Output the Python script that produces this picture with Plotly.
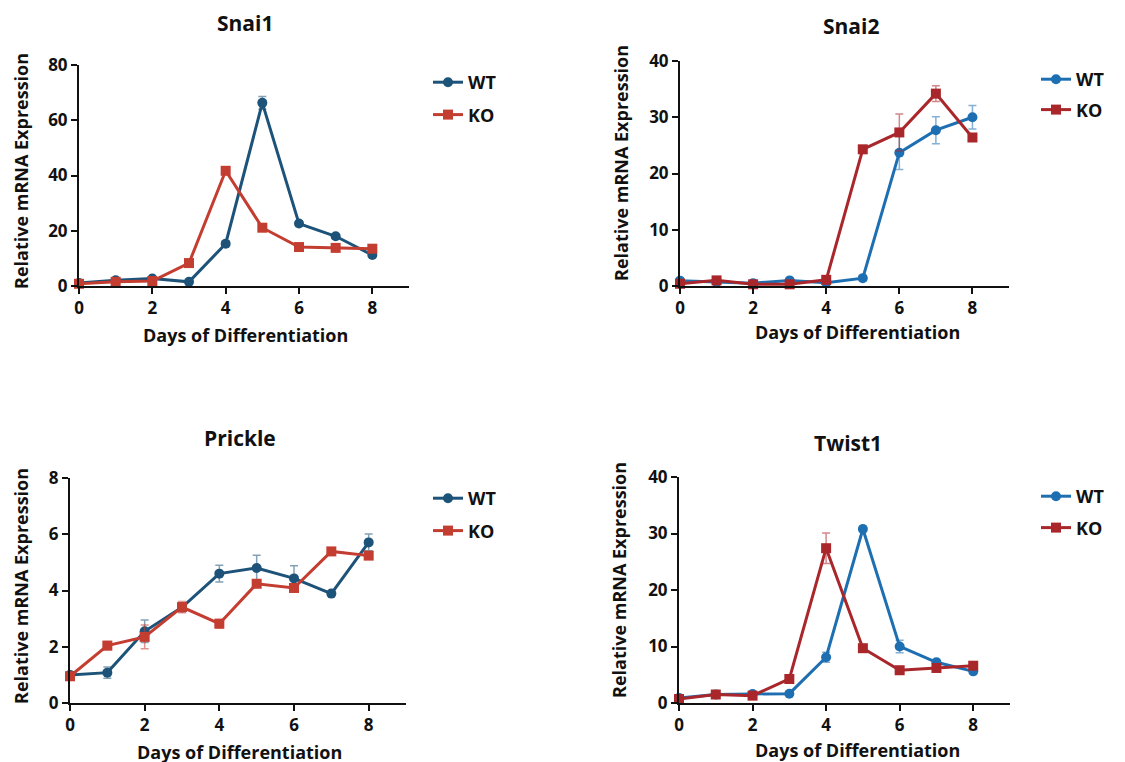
import plotly.graph_objects as go

days = [0, 1, 2, 3, 4, 5, 6, 7, 8]

snai1_wt = [1.1, 2.1, 2.7, 1.5, 15.3, 66.3, 22.6, 18.0, 11.2]
snai1_wt_err = [0.5, 0.5, 0.5, 0.4, 1.0, 2.3, 1.0, 0.8, 0.8]
snai1_ko = [0.8, 1.5, 1.8, 8.3, 41.7, 21.1, 14.1, 13.8, 13.5]
snai1_ko_err = [0.4, 0.4, 0.4, 0.8, 1.2, 0.8, 0.6, 0.6, 0.6]

snai2_wt = [0.95, 0.7, 0.5, 1.0, 0.6, 1.4, 23.7, 27.7, 30.0]
snai2_wt_err = [0.3, 0.3, 0.3, 0.3, 0.3, 0.4, 3.0, 2.4, 2.1]
snai2_ko = [0.4, 1.0, 0.3, 0.3, 1.1, 24.3, 27.3, 34.2, 26.4]
snai2_ko_err = [0.3, 0.4, 0.3, 0.3, 0.4, 0.5, 3.3, 1.4, 0.5]

prickle_wt = [1.0, 1.08, 2.55, 3.4, 4.6, 4.8, 4.43, 3.89, 5.71]
prickle_wt_err = [0.1, 0.2, 0.4, 0.15, 0.3, 0.45, 0.45, 0.08, 0.3]
prickle_ko = [0.95, 2.04, 2.35, 3.41, 2.82, 4.24, 4.09, 5.39, 5.24]
prickle_ko_err = [0.08, 0.15, 0.42, 0.2, 0.15, 0.1, 0.1, 0.08, 0.12]

twist1_wt = [0.9, 1.5, 1.6, 1.65, 8.1, 30.8, 10.0, 7.2, 5.6]
twist1_wt_err = [0.3, 0.3, 0.3, 0.3, 0.9, 0.5, 1.1, 0.5, 0.4]
twist1_ko = [0.7, 1.5, 1.3, 4.25, 27.4, 9.7, 5.8, 6.2, 6.6]
twist1_ko_err = [0.3, 0.3, 0.3, 0.4, 2.7, 0.5, 0.4, 0.4, 0.4]

titles = ["Snai1", "Snai2", "Prickle", "Twist1"]
y_max = [80, 40, 8, 40]
y_dtick = [20, 10, 2, 10]
series_labels = ["WT", "KO"]
x_title = "Days of Differentiation"
y_title = "Relative mRNA Expression"

W, H = 1125, 762
OFF = 8  # page body margin
FONT = "Open Sans"

def px(x):
    return (x - OFF) / W

def py(y):
    return 1 - (y - OFF) / H

# plot-area pixel boxes (screen pixels): (left, right, top, bottom)
boxes = [(79, 409, 65, 286), (680, 1009, 61, 286), (70, 406, 478, 703), (679, 1010, 477, 703)]
title_pos = [(245, 23), (851, 26), (240, 438), (848, 443)]
xtitle_pos = [(245, 335), (857, 332), (239, 752), (857, 750)]
ytitle_pos = [(21, 171), (621, 163), (21, 586), (619, 580)]
legend_pos = [(428, 64), (1036, 61), (428, 480), (1036, 478)]
legend_gap = [6, 4, 6, 5]

dark_colors = ("#1d5379", "#c43d31", "rgba(29,83,121,0.55)", "rgba(196,61,49,0.55)")
bright_colors = ("#1e6fb1", "#a9272b", "rgba(30,111,177,0.55)", "rgba(169,39,43,0.55)")
palettes = [dark_colors, bright_colors, dark_colors, bright_colors]

data = [
    (snai1_wt, snai1_wt_err, snai1_ko, snai1_ko_err),
    (snai2_wt, snai2_wt_err, snai2_ko, snai2_ko_err),
    (prickle_wt, prickle_wt_err, prickle_ko, prickle_ko_err),
    (twist1_wt, twist1_wt_err, twist1_ko, twist1_ko_err),
]

fig = go.Figure()
annotations = []
layout_kw = {}

for i in range(4):
    wt, wte, ko, koe = data[i]
    cw, ck, cwe, cke = palettes[i]
    sfx = "" if i == 0 else str(i + 1)
    leg = "legend" if i == 0 else f"legend{i + 1}"
    fig.add_trace(go.Scatter(
        x=days, y=wt, mode="lines+markers", name=series_labels[0],
        line=dict(color=cw, width=3),
        marker=dict(symbol="circle", size=10, color=cw),
        error_y=dict(type="data", array=wte, visible=True, color=cwe, thickness=1.5, width=4),
        xaxis="x" + sfx, yaxis="y" + sfx, legend=leg, legendgroup=f"wt{i}", cliponaxis=False,
    ))
    fig.add_trace(go.Scatter(
        x=days, y=ko, mode="lines+markers", name=series_labels[1],
        line=dict(color=ck, width=3),
        marker=dict(symbol="square", size=10, color=ck),
        error_y=dict(type="data", array=koe, visible=True, color=cke, thickness=1.5, width=4),
        xaxis="x" + sfx, yaxis="y" + sfx, legend=leg, legendgroup=f"ko{i}", cliponaxis=False,
    ))
    l, r, t, b = boxes[i]
    axis_common = dict(
        showline=True, linecolor="#111", linewidth=2, ticks="outside", ticklen=6,
        tickwidth=2, tickcolor="#111", showgrid=False, zeroline=False, automargin=False,
        tickfont=dict(family=FONT, size=17, color="#111", weight="bold"),
    )
    layout_kw["xaxis" + sfx] = dict(
        domain=[px(l), px(r)], range=[0, 9], tickvals=[0, 2, 4, 6, 8],
        anchor="y" + sfx, **axis_common,
    )
    layout_kw["yaxis" + sfx] = dict(
        domain=[py(b), py(t)], range=[0, y_max[i]], dtick=y_dtick[i],
        anchor="x" + sfx, **axis_common,
    )
    lx, ly = legend_pos[i]
    layout_kw[leg] = dict(
        x=px(lx), y=py(ly), xanchor="left", yanchor="top",
        font=dict(family=FONT, size=18, color="#111", weight="bold"),
        traceorder="grouped", tracegroupgap=legend_gap[i], bgcolor="rgba(0,0,0,0)",
        entrywidth=40,
    )
    tx, ty = title_pos[i]
    annotations.append(dict(text=titles[i], x=px(tx), y=py(ty), xref="paper", yref="paper",
                            showarrow=False, xanchor="center", yanchor="middle",
                            font=dict(family=FONT, size=21, color="#111", weight="bold")))
    ax_, ay_ = xtitle_pos[i]
    annotations.append(dict(text=x_title, x=px(ax_), y=py(ay_), xref="paper", yref="paper",
                            showarrow=False, xanchor="center", yanchor="middle",
                            font=dict(family=FONT, size=18, color="#111", weight="bold")))
    bx, by = ytitle_pos[i]
    annotations.append(dict(text=y_title, x=px(bx), y=py(by), xref="paper", yref="paper",
                            showarrow=False, xanchor="center", yanchor="middle", textangle=-90,
                            font=dict(family=FONT, size=18, color="#111", weight="bold")))

fig.update_layout(
    width=W, height=H, margin=dict(l=0, r=0, t=0, b=0),
    paper_bgcolor="white", plot_bgcolor="white",
    annotations=annotations, showlegend=True,
    **layout_kw,
)

fig.write_html("out.html")
